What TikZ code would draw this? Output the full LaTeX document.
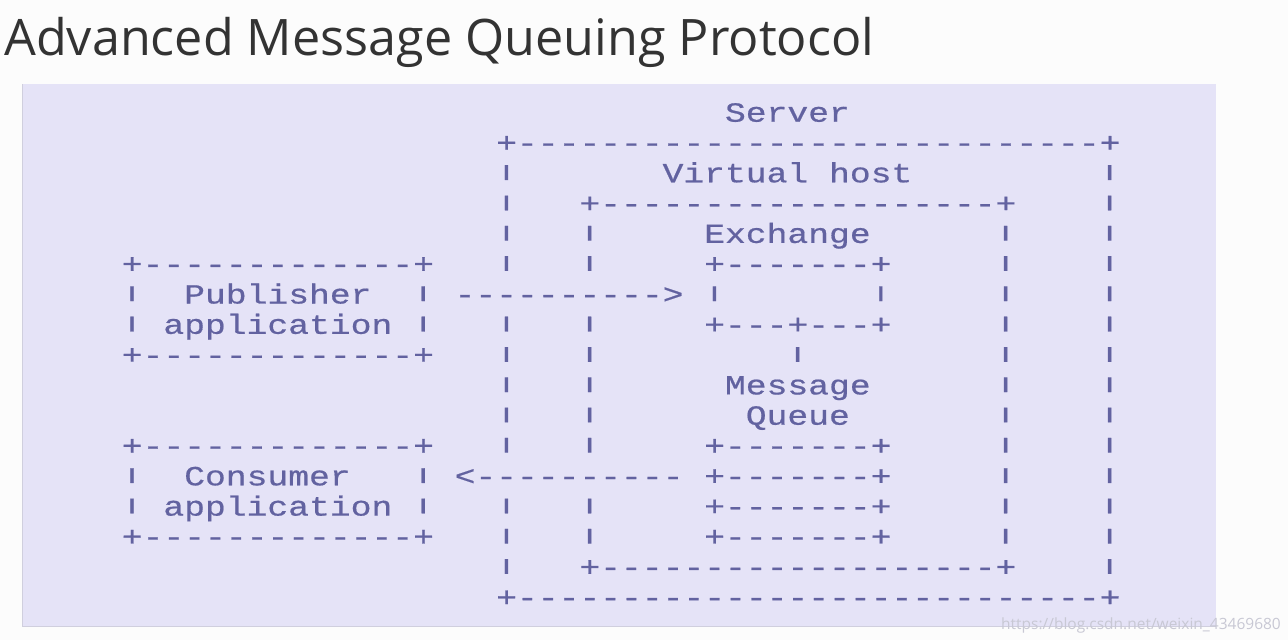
\documentclass[tikz,border=0pt]{standalone}
\usepackage{fontspec}
\setmainfont{Open Sans}
\setmonofont[FakeStretch=1.252, FakeBold=0.6]{Liberation Mono}
\definecolor{pagebg}{RGB}{252,252,252}
\definecolor{panelbg}{RGB}{229,227,247}
\definecolor{panelrim}{RGB}{208,207,222}
\definecolor{asciiblue}{RGB}{98,98,160}
\definecolor{titlegray}{RGB}{51,51,51}
\definecolor{markgray}{RGB}{200,200,212}
\newcommand\dashrun[1]{\foreach \i in {1,...,#1}{-}}
\newcommand\asciiedge[1]{+\dashrun{#1}+}
\newcommand\shortbar{\scalebox{1.1}[0.57]{|}}

\begin{document}
\begin{tikzpicture}[
		x=1pt,
		y=-1pt,
		ascii/.style={font=\ttfamily\fontsize{27.7}{27.7}\selectfont, text=asciiblue, inner sep=0pt, anchor=base west},
		bar/.style={ascii, anchor=center},
		title/.style={font=\fontsize{50.3}{50.3}\selectfont, text=titlegray, inner sep=0pt, anchor=base west},
		watermark/.style={font=\fontsize{15.5}{15.5}\selectfont, text=markgray, inner sep=0pt, anchor=base east}
	]
		\fill[pagebg] (0,0) rectangle (1288,640);
		\useasboundingbox (0,0) rectangle (1288,640);
		\fill[panelbg] (22,84) rectangle (1216,626);
		\draw[panelrim] (22,84) -- (22,626) -- (1216,626);
		\node[title] (title) at (4,55) {Advanced Message Queuing Protocol};
		\begin{scope}[shift={(121.6,121.7)}, x=20.8pt, y=-30.3pt, every node/.style={ascii}]
			% server
			\node (server) at (29,0) {Server};
			\node (servertop) at (18,1) {\asciiedge{28}};
			\node (serverbot) at (18,16) {\asciiedge{28}};
			\foreach \r in {2,3,4,5,7,8,9,10,11,13,14,15}
				\node[bar] at (18.5,\r-0.32) {\shortbar};
			\foreach \r in {2,...,15}
				\node[bar] at (47.5,\r-0.32) {\shortbar};
			% virtual host
			\node (vhost) at (26,2) {Virtual host};
			\node (vhosttop) at (22,3) {\asciiedge{19}};
			\node (vhostbot) at (22,15) {\asciiedge{19}};
			\foreach \r in {4,5,7,8,9,10,11,13,14}
				\node[bar] at (22.5,\r-0.32) {\shortbar};
			\foreach \r in {4,...,14}
				\node[bar] at (42.5,\r-0.32) {\shortbar};
			% exchange
			\node (exchange) at (28,4) {Exchange};
			\node (exchtop) at (28,5) {\asciiedge{7}};
			\node[bar] at (28.5,5.68) {\shortbar};
			\node[bar] at (36.5,5.68) {\shortbar};
			\node (exchbot) at (28,7) {+\dashrun{3}+\dashrun{3}+};
			\node[bar] (binding) at (32.5,7.68) {\shortbar};
			% message queue
			\node (queue) at (29,9) {Message};
			\node at (30,10) {Queue};
			\foreach \r in {11,...,14}
				\node at (28,\r) {\asciiedge{7}};
			% publisher
			\node (pubtop) at (0,5) {\asciiedge{13}};
			\node[bar] at (0.5,5.68) {\shortbar};
			\node (publisher) at (3,6) {Publisher};
			\node[bar] at (14.5,5.68) {\shortbar};
			\node[bar] at (0.5,6.68) {\shortbar};
			\node at (2,7) {application};
			\node[bar] at (14.5,6.68) {\shortbar};
			\node (pubbot) at (0,8) {\asciiedge{13}};
			\node (publish) at (16,6) {\dashrun{10}>};
			% consumer
			\node (contop) at (0,11) {\asciiedge{13}};
			\node[bar] at (0.5,11.68) {\shortbar};
			\node (consumer) at (3,12) {Consumer};
			\node[bar] at (14.5,11.68) {\shortbar};
			\node[bar] at (0.5,12.68) {\shortbar};
			\node at (2,13) {application};
			\node[bar] at (14.5,12.68) {\shortbar};
			\node (conbot) at (0,14) {\asciiedge{13}};
			\node (consume) at (16,12) {<\dashrun{10}};
		\end{scope}
		\node[watermark] (url) at (1281,629) {https://blog.csdn.net/weixin\_43469680};
	\end{tikzpicture}
\end{document}
